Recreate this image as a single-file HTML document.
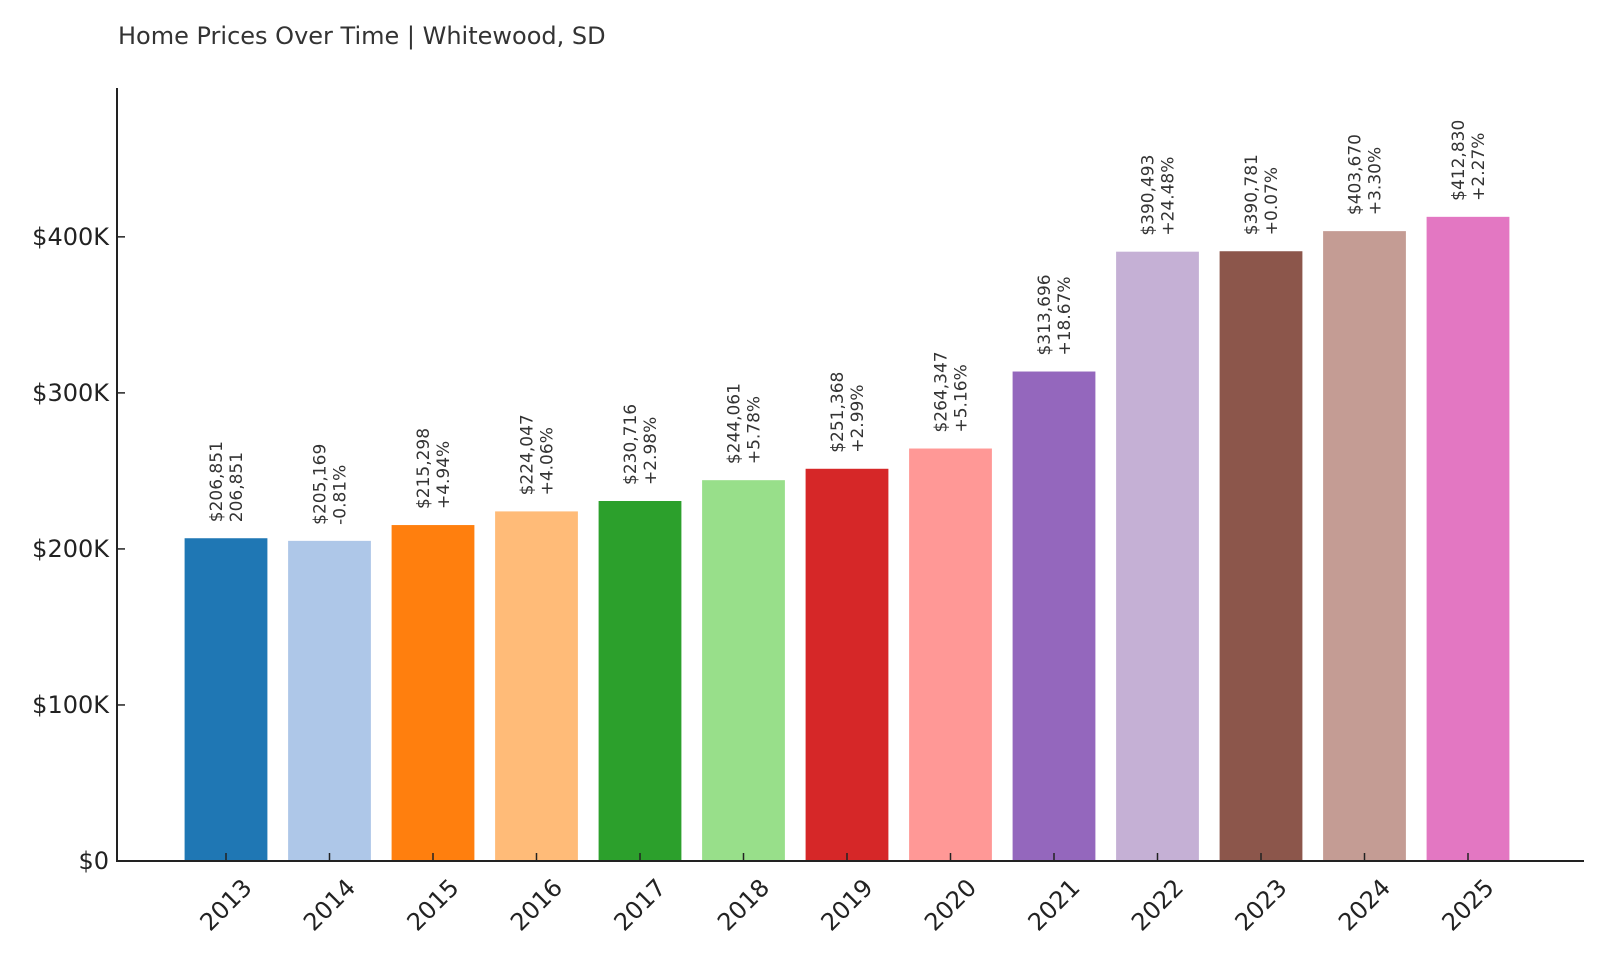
<!DOCTYPE html>
<html><head><meta charset="utf-8"><style>
html,body{margin:0;padding:0;background:#fff;}
svg{display:block;font-family:"DejaVu Sans","Liberation Sans",sans-serif;}
</style></head><body>
<svg id="chart" width="1600" height="960" viewBox="0 0 1600 960">
<text x="118" y="44" font-size="24" fill="#333">Home Prices Over Time | Whitewood, SD</text>
<g id="bars"></g>
<g id="axes"></g>
</svg>
<script>
const years = ["2013","2014","2015","2016","2017","2018","2019","2020","2021","2022","2023","2024","2025"];
const prices = [206851,205169,215298,224047,230716,244061,251368,264347,313696,390493,390781,403670,412830];
const changes = ["206,851","-0.81%","+4.94%","+4.06%","+2.98%","+5.78%","+2.99%","+5.16%","+18.67%","+24.48%","+0.07%","+3.30%","+2.27%"];
const yTicks = [0,100000,200000,300000,400000];
const yTickLabels = ["$0","$100K","$200K","$300K","$400K"];
const colors = ["#1f77b4","#aec7e8","#ff7f0e","#ffbb78","#2ca02c","#98df8a","#d62728","#ff9896","#9467bd","#c5b0d5","#8c564b","#c49c94","#e377c2"];

const NS="http://www.w3.org/2000/svg";
const x0=117, x1=1584, y0=861, yTop=88;
const yMax=Math.max(...prices)*1.2;
const y=v=>y0-(v/yMax)*(y0-yTop);
const step=103.5, first=226;
const x=i=>first+i*step;
const bw=step*0.8;
const bars=document.getElementById('bars'), axes=document.getElementById('axes');
function mk(tag,attrs,parent){const e=document.createElementNS(NS,tag);for(const k in attrs)e.setAttribute(k,attrs[k]);parent.appendChild(e);return e;}
const fmt=v=>"$"+v.toLocaleString("en-US");
prices.forEach((p,i)=>{
  const r=mk('rect',{x:x(i)-bw/2,y:y(p),width:bw,height:y0-y(p),fill:colors[i]},bars);
  
  
  const cx=x(i), by=y(p)-16;
  const t=mk('text',{transform:`translate(${cx},${by}) rotate(-90)`,'font-size':17,fill:'#333'},bars);
  
  
  const a=mk('tspan',{x:0,y:-4},t); a.textContent=fmt(p);
  const b=mk('tspan',{x:0,y:16},t); b.textContent=changes[i];
  const tk=mk('line',{x1:cx,x2:cx,y1:y0,y2:y0-8,stroke:'#222','stroke-width':1.5},axes);
  
  
  const xl=mk('text',{transform:`translate(${cx},905) rotate(-45)`,'text-anchor':'middle','dominant-baseline':'central','font-size':24,fill:'#222'},axes);
  
  
  xl.textContent=years[i];
});
yTicks.forEach((v,i)=>{
  const tk=mk('line',{x1:x0,x2:x0+8,y1:y(v),y2:y(v),stroke:'#222','stroke-width':1.5},axes);
  
  
  const l=mk('text',{x:x0-8,y:y(v),'text-anchor':'end','dominant-baseline':'central','font-size':24,fill:'#222'},axes);
  
  
  l.textContent=yTickLabels[i];
});
const ya=mk('line',{x1:x0,x2:x0,y1:yTop,y2:y0+1,stroke:'#222','stroke-width':2},axes);


const xa=mk('line',{x1:x0-1,x2:x1,y1:y0,y2:y0,stroke:'#222','stroke-width':2},axes);


</script>
</body></html>
